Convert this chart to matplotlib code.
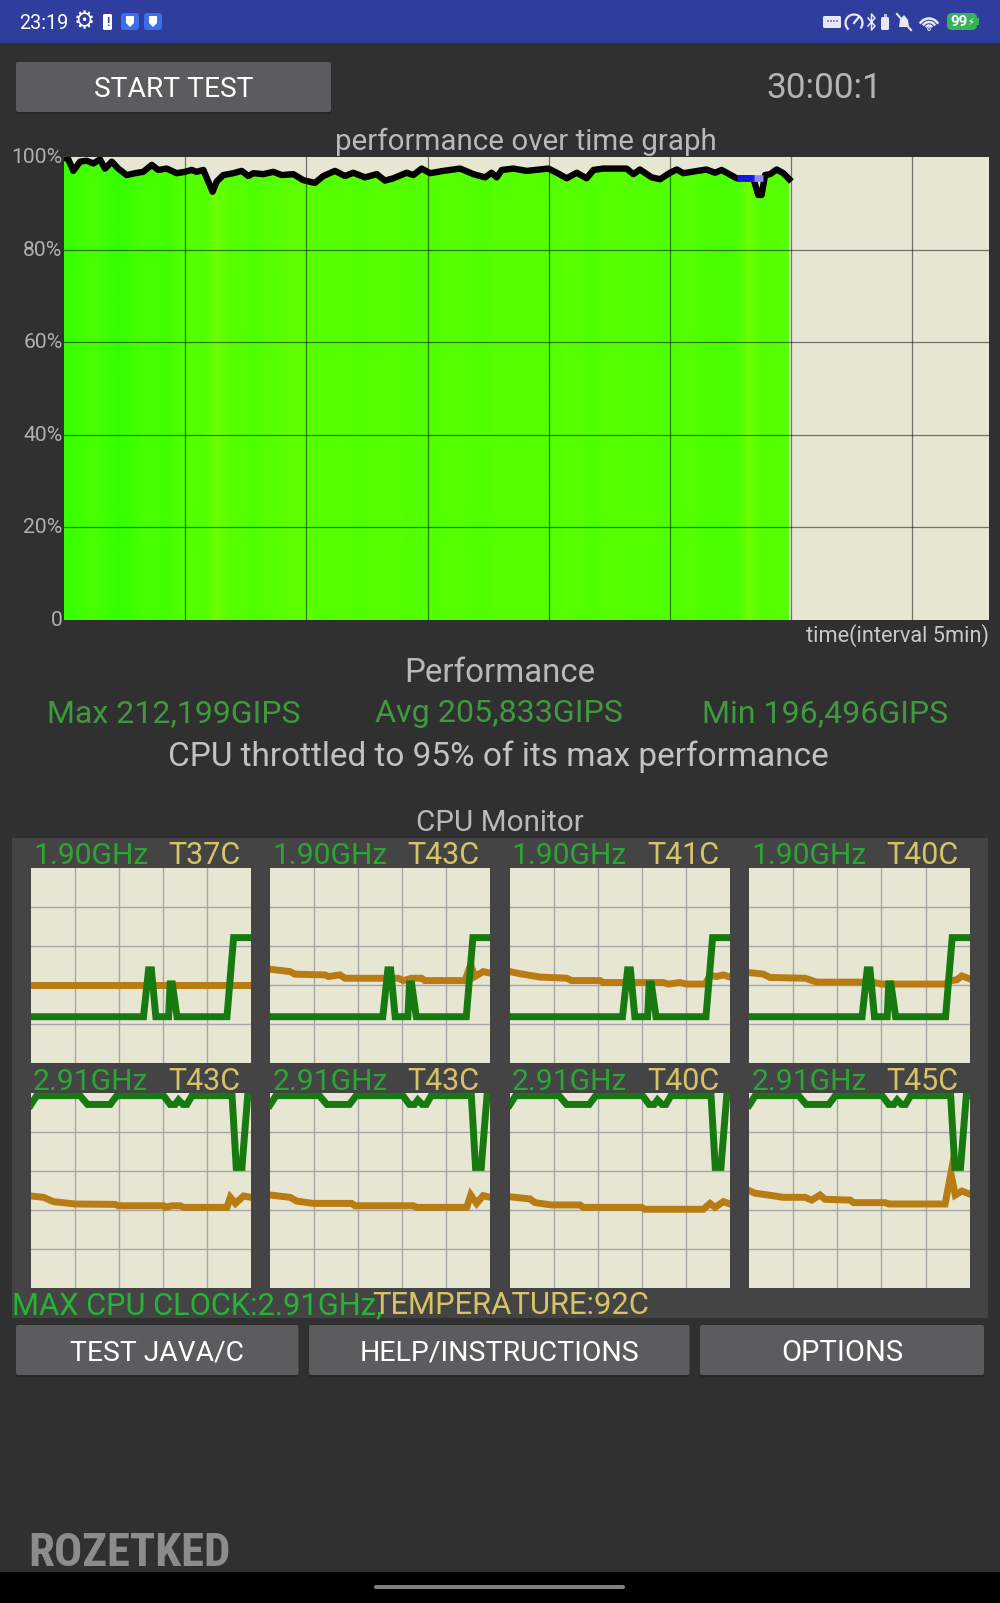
import numpy as np
import matplotlib
matplotlib.use("Agg")
import matplotlib.pyplot as plt
from matplotlib import font_manager as fm
from matplotlib.patches import Rectangle, FancyBboxPatch, Arc, Polygon
from matplotlib.transforms import ScaledTranslation

W, H = 1000, 1603
FONT = "Roboto"

# a condensed face for the watermark, if one is installed
LOGO_FONT, LOGO_STRETCH = "DejaVu Sans", "normal"
for f in fm.fontManager.ttflist:
    if f.name in ("Liberation Sans Narrow", "Roboto Condensed", "Open Sans Condensed", "Noto Sans Condensed"):
        LOGO_FONT, LOGO_STRETCH = f.name, "normal"
        break
else:
    for f in fm.fontManager.ttflist:
        if f.name == "DejaVu Sans" and str(f.stretch) in ("condensed", "semi-condensed", "75", "87"):
            LOGO_STRETCH = "condensed"
            break

# ---------- main performance graph ----------
perf_time = [0, .18, .385, .66, .935, 1.21, 1.485, 1.69, 1.97, 2.24, 2.585, 2.93, 3.27, 3.62, 3.89, 4.235,
             4.65, 4.99, 5.27, 5.47, 5.75, 5.95, 6.13, 6.3, 6.57, 6.985, 7.33, 7.6, 7.81, 8.22, 8.635, 8.98,
             9.46, 9.87, 10.35, 10.7, 11.18, 11.59, 11.935, 12.415, 12.9, 13.24, 13.585, 14.135, 14.41,
             14.755, 15.1, 15.65, 16.34, 16.89, 17.37, 17.64, 17.85, 18.06, 18.54, 19.09, 19.98, 20.33,
             20.74, 21.15, 21.56, 21.84, 22.25, 23.21, 23.49, 23.76, 24.24, 24.59, 25.0, 25.28, 25.55,
             26.5, 26.86, 27.13, 27.75, 28.44, 28.64, 28.78, 28.92, 29.13, 29.4, 29.68, 29.92]
perf_pct = [99.9, 99.5, 97.0, 99.0, 99.2, 98.6, 99.5, 97.5, 99.0, 97.5, 96.1, 96.5, 96.8, 98.3, 97.2, 97.5,
            96.5, 96.8, 97.2, 96.8, 97.2, 94.7, 92.5, 94.7, 96.1, 96.5, 97.0, 95.9, 96.5, 96.3, 96.8, 96.1,
            96.3, 95.0, 94.4, 95.9, 97.0, 95.9, 96.6, 95.6, 96.3, 94.9, 95.4, 96.6, 96.1,
            97.5, 96.5, 97.0, 97.5, 96.3, 95.6, 96.6, 95.6, 97.2, 97.5, 97.0, 97.5, 96.6,
            95.4, 96.6, 95.4, 97.2, 97.5, 97.5, 96.3, 97.3, 95.6, 95.2, 96.6, 97.3, 96.5,
            97.3, 96.6, 97.2, 95.4, 95.4, 91.8, 91.8, 96.1, 96.3, 97.3, 96.5, 95.2]
blue_time = [27.75, 28.45]
blue_pct = [95.4, 95.4]
pale_blue_time = [28.35, 28.85]
pale_blue_pct = [95.4, 95.4]
# red channel of the vertical green stripes, one value per half minute
stripe_red = [56, 66, 72, 62, 52, 62, 72, 70, 66, 78, 84, 80, 108, 90, 85, 78, 84, 88, 92, 96,
              88, 82, 86, 84, 80, 84, 86, 84, 82, 84, 80, 84, 86, 82, 80, 84, 86, 84, 86, 84,
              84, 88, 84, 80, 84, 86, 84, 82, 84, 80, 82, 84, 78, 74, 72, 76, 108, 84, 86, 88]
ytick_vals = [0, 20, 40, 60, 80, 100]
ytick_labels = ["0", "20%", "40%", "60%", "80%", "100%"]

# ---------- small CPU monitors (x and y in percent of each panel) ----------
clk_low_x = [0, 51.2, 53.5, 54.8, 56.8, 62.6, 63.3, 64.3, 66.4, 89.1, 92.1, 100]
clk_low_y = [23.7, 23.7, 47.7, 47.7, 23.7, 23.7, 40.5, 40.5, 23.7, 23.7, 64.2, 64.2]
clk_high_x = [0, 2.7, 22.4, 25.8, 36.1, 39.1, 60.3, 63.3, 65.6, 67.1, 69.1, 70.9, 73.2, 91.4, 93.3, 95.9, 98.5, 100]
clk_high_y = [93.7, 98.5, 98.5, 94, 94, 98.5, 98.5, 94, 94, 96.3, 94, 94, 98.5, 98.5, 61.8, 61.8, 98.5, 98.5]

temp_x = [
    [0, 100],
    [0, 9.1, 11.3, 25, 26.5, 31.8, 34, 58.2, 60.5, 64.3, 68.8, 70.3, 88.5, 91.1, 93, 96.8, 100],
    [0, 4.7, 13.8, 25.9, 28.1, 41, 42.5, 69.7, 72, 77.3, 80.3, 88.7, 90.9, 93.9, 97, 100],
    [0, 6.4, 9.4, 25.3, 30.6, 55.6, 60.2, 88.9, 91.2, 94.2, 96.5, 100],
    [0, 5.8, 10.3, 20.2, 38.3, 39.8, 60.3, 61.1, 64.1, 67.9, 69.4, 89.1, 90.6, 92.9, 96.7, 100],
    [0, 9.1, 12.1, 19.7, 37.1, 38.6, 65.1, 66.6, 89.3, 91.1, 93.8, 96.8, 100],
    [0, 9.2, 11.5, 19.1, 31.9, 33.4, 59.9, 61.4, 87.9, 90.9, 93.2, 97, 100],
    [0, 2.6, 8.6, 15.5, 25.3, 28.3, 32.1, 34.4, 45.8, 47.3, 61.7, 63.2, 88.9, 91.5, 93.5, 96.5, 100],
]
temp_y = [
    [40.0, 40.0],
    [48.0, 46.8, 45.5, 45.1, 44.3, 45.1, 43.4, 43.4, 42.2, 43.4, 43.4, 42.2, 42.2, 50.3, 44.3, 46.8, 46.0],
    [46.8, 45.7, 44.0, 43.4, 42.2, 42.2, 41.2, 41.2, 40.4, 41.2, 40.4, 40.4, 44.8, 44.3, 45.1, 44.0],
    [46.3, 45.5, 43.8, 43.4, 41.4, 41.4, 40.4, 40.4, 42.1, 42.6, 44.6, 43.1],
    [47.2, 46.5, 44.3, 43.1, 42.9, 42.2, 42.2, 41.4, 42.2, 42.2, 41.4, 41.4, 46.5, 43.4, 47.2, 46.5],
    [47.7, 46.5, 44.6, 43.4, 43.4, 42.2, 42.2, 41.4, 41.4, 47.7, 43.4, 47.4, 46.5],
    [46.8, 45.7, 43.8, 42.6, 42.6, 41.4, 41.4, 40.4, 40.4, 43.4, 41.4, 44.3, 43.1],
    [49.9, 48.6, 47.7, 46.5, 46.5, 45.1, 47.7, 45.5, 45.1, 43.8, 43.8, 43.1, 43.1, 58.8, 47.7, 49.7, 48.2],
]
freq_labels = ["1.90GHz"] * 4 + ["2.91GHz"] * 4
temp_labels = ["T37C", "T43C", "T41C", "T40C", "T43C", "T43C", "T40C", "T45C"]

# ---------- colours ----------
BG = "#303030"; PANEL = "#444444"; BAR = "#2f3e9e"; BTN = "#5c5c5e"; PAPER = "#e6e6d3"
GRID = "#a6a6a6"; GREEN_L = "#177a10"; ORANGE_L = "#b97c14"
GREEN_T = "#2ca535"; YELLOW_T = "#d6c366"; GREY_T = "#b9b9b9"

fig = plt.figure(figsize=(W / 100, H / 100), dpi=100, facecolor=BG)
renderer = fig.canvas.get_renderer()
bg = fig.add_axes([0, 0, 1, 1], zorder=0)
bg.set_xlim(0, W); bg.set_ylim(H, 0); bg.axis("off")


def rect(x0, y0, x1, y1, color, z=1):
    bg.add_patch(Rectangle((x0, y0), x1 - x0, y1 - y0, facecolor=color, edgecolor="none", zorder=z))


def rrect(x0, y0, x1, y1, color, r=2, z=2):
    bg.add_patch(FancyBboxPatch((x0 + r, y0 + r), x1 - x0 - 2 * r, y1 - y0 - 2 * r,
                                boxstyle=f"round,pad={r},rounding_size={r}",
                                facecolor=color, edgecolor="none", zorder=z))


def fit(s, x0, x1, yc, color, size=20, family=FONT, z=5, **kw):
    t = bg.text((x0 + x1) / 2, yc, s, color=color, fontsize=size, family=family,
                ha="center", va="center_baseline", zorder=z, **kw)
    t.set_fontsize(size * (x1 - x0 + 2) / t.get_window_extent(renderer).width)
    return t


def paxes(x0, y0, x1, y1, z=3):
    return fig.add_axes([x0 / W, 1 - y1 / H, (x1 - x0) / W, (y1 - y0) / H], zorder=z)


# chrome
rect(0, 0, W, 43, BAR)
rect(0, 1572, W, H, "#000000")
rrect(374, 1585, 625, 1589, "#808080", r=2)
rrect(16, 64, 331, 114, "#262626")
rrect(16, 62, 331, 112, BTN)
fit("START TEST", 94.5, 252, 86.5, "#ffffff", size=20)
fit("30:00:1", 767, 881, 85, "#b4b4b4", size=24)
fit("performance over time graph", 337, 715, 139, GREY_T, size=20)
fit("time(interval 5min)", 807, 989, 633, "#c8c8c8", size=14)
fit("Performance", 405, 594, 669, GREY_T, size=22)
fit("Max 212,199GIPS", 48, 299, 711, "#3f9a3f", size=20)
fit("Avg 205,833GIPS", 376, 622, 711, "#3f9a3f", size=20)
fit("Min 196,496GIPS", 703, 947, 711, "#3f9a3f", size=20)
fit("CPU throttled to 95% of its max performance", 169, 828, 753, "#c2c2c2", size=22)
fit("CPU Monitor", 417, 582, 820, GREY_T, size=20)
rect(12, 838, 988, 1318, PANEL)

# buttons
for x0, x1, s, tx0, tx1 in [(16, 298.5, "TEST JAVA/C", 71, 243),
                            (309, 689.5, "HELP/INSTRUCTIONS", 360, 638),
                            (700, 984, "OPTIONS", 782, 902)]:
    rrect(x0, 1327, x1, 1377, "#262626")
    rrect(x0, 1325, x1, 1375, BTN)
    fit(s, tx0, tx1, 1350, "#ffffff", size=20)

# main graph
ax = paxes(64, 157, 989, 620)
ax.set_facecolor(PAPER)
ax.set_xlim(0, 38.16); ax.set_ylim(0, 100)
poly = ax.fill_between(perf_time, perf_pct, 0, facecolor="none", edgecolor="none")
stripes = np.array([[[r / 255, 1.0, 0.0] for r in stripe_red]])
im = ax.imshow(stripes, extent=(0, 30, 0, 100), aspect="auto", interpolation="bilinear", zorder=1)
im.set_clip_path(poly.get_paths()[0], transform=ax.transData)
ax.set_xlim(0, 38.16); ax.set_ylim(0, 100)
for xv in range(5, 36, 5):
    ax.axvline(xv, color="#000000", alpha=0.5, lw=0.9, zorder=2)
for yv in ytick_vals[1:-1]:
    ax.axhline(yv, color="#000000", alpha=0.5, lw=0.9, zorder=2)
ax.plot(perf_time, perf_pct, color="#000000", lw=4.6, zorder=3, solid_joinstyle="round")
ax.plot(blue_time, blue_pct, color="#1616e6", lw=4.8, zorder=4, solid_capstyle="butt")
ax.plot(pale_blue_time, pale_blue_pct, color="#8c8cf0", lw=4.8, zorder=3.5, solid_capstyle="butt")
ax.set_xticks([])
ax.set_yticks(ytick_vals, ytick_labels, color="#b0b0b0", fontsize=15.2, family=FONT)
ax.tick_params(axis="y", length=0, pad=1)
for lab in ax.get_yticklabels():
    lab.set_transform(lab.get_transform() + ScaledTranslation(0, 1.5 / 100, fig.dpi_scale_trans))
for s in ax.spines.values():
    s.set_visible(False)

# CPU monitors
col_x = [30.7, 270, 509.7, 749.3]
rows = [(867.7, 1063, 853), (1092.7, 1288.3, 1079)]
for i in range(8):
    row = i // 4
    x0 = col_x[i % 4]
    y0, y1, ty = rows[row]
    a = paxes(x0, y0, x0 + 220.3, y1)
    a.set_facecolor(PAPER)
    a.set_xlim(0, 100); a.set_ylim(0, 100)
    a.set_xticks([]); a.set_yticks([])
    for s in a.spines.values():
        s.set_visible(False)
    for v in range(20, 100, 20):
        a.axvline(v, color=GRID, lw=1.0, zorder=1)
        a.axhline(v, color=GRID, lw=1.0, zorder=1)
    a.plot(temp_x[i], temp_y[i], color=ORANGE_L, lw=5.0, zorder=2, solid_joinstyle="miter")
    cx, cy = (clk_low_x, clk_low_y) if row == 0 else (clk_high_x, clk_high_y)
    a.plot(cx, cy, color=GREEN_L, lw=5.0, zorder=3, solid_joinstyle="miter")
    fit(freq_labels[i], x0 + 3.3, x0 + 116.3, ty, GREEN_T, size=20)
    fit(temp_labels[i], x0 + 138, x0 + 208.5, ty, YELLOW_T, size=20)

fit("MAX CPU CLOCK:2.91GHz,", 13, 382, 1303, "#27b335", size=21)
fit("TEMPERATURE:92C", 373, 648, 1303, YELLOW_T, size=21, z=6)

# watermark
fit("ROZETKED", 29.5, 230, 1549, "#8c8c8c", size=44, family=LOGO_FONT, fontstretch=LOGO_STRETCH, weight="bold")

# status bar
fit("23:19", 20, 67.5, 21.5, "#ffffff", size=14)
bg.text(84, 21, "\u2699", color="#ffffff", fontsize=17, family="DejaVu Sans", ha="center", va="center", zorder=5)
rrect(103, 14, 112, 30, "#ffffff", r=1.5)
bg.text(107.5, 22.5, "!", color=BAR, fontsize=9, family=FONT, weight="bold", ha="center", va="center", zorder=6)
for cx in (130, 153):
    rrect(cx - 9, 13, cx + 9, 30, "#3a6fe8", r=3)
    bg.add_patch(Polygon([[cx - 4, 16], [cx + 4, 16], [cx + 4, 23], [cx, 27], [cx - 4, 23]],
                         facecolor="#ffffff", edgecolor="none", zorder=6))
rrect(823, 16, 841, 28, "#e8e8f4", r=1.5)
for xv in (827, 830, 833, 836):
    rect(xv, 20, xv + 1.5, 22, "#8890c0", z=6)
bg.add_patch(Arc((854, 23), 17, 17, theta1=130, theta2=400, color="#e8e8f4", lw=1.6, zorder=5))
bg.plot([854, 859], [23, 17], color="#e8e8f4", lw=1.6, zorder=5)
bg.plot([868, 875, 871.5, 871.5, 875, 868], [18, 26, 30, 14, 18, 26], color="#e8e8f4", lw=1.1, zorder=5)
rrect(881, 17, 889, 30, "#e8e8f4", r=1.5)
rect(883.5, 14, 886.5, 17, "#b8bcd8")
bg.add_patch(Polygon([[904, 15], [908, 20], [909, 27], [899, 27], [900, 20]],
                     facecolor="#e8e8f4", edgecolor="none", zorder=5))
bg.plot([897, 911], [14, 30], color="#e8e8f4", lw=1.5, zorder=6)
for d in (7, 14, 21):
    bg.add_patch(Arc((929, 29), d, d, theta1=210 - 360, theta2=-30 + 0, angle=0, color="#e8e8f4", lw=1.8, zorder=5))
bg.add_patch(Arc((929, 29), 1, 1, color="#e8e8f4", lw=2, zorder=5))
rrect(947, 13, 977, 30, "#38b15c", r=5)
rect(977, 18, 979, 25, "#38b15c")
bg.text(959, 22, "99", color="#ffffff", fontsize=11, family=FONT, weight="bold", ha="center", va="center", zorder=6)
bg.text(971, 22, "\u26a1", color="#ffffff", fontsize=7, family="DejaVu Sans", ha="center", va="center", zorder=6)

fig.savefig("out.png", dpi=100, facecolor=BG)
